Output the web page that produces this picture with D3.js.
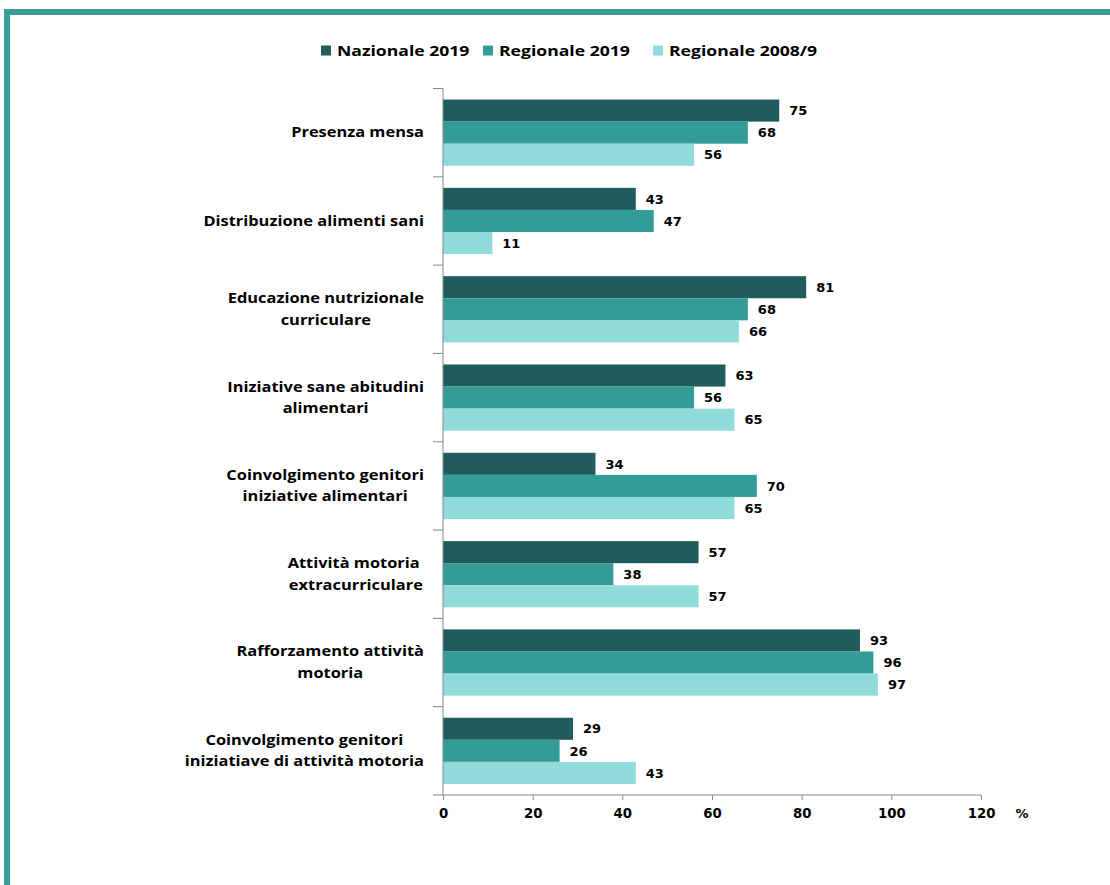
<!DOCTYPE html>
<html><head><meta charset="utf-8">
<script src="https://cdn.jsdelivr.net/npm/d3@7"></script>
<style>body{margin:0;background:#fff}svg{display:block}</style>
</head><body>
<svg id="c" width="1110" height="885"></svg>
<script>
const categories = [
  "Presenza mensa",
  "Distribuzione alimenti sani",
  "Educazione nutrizionale|curriculare",
  "Iniziative sane abitudini|alimentari",
  "Coinvolgimento genitori|iniziative alimentari",
  "Attività motoria |extracurriculare",
  "Rafforzamento attività|motoria",
  "Coinvolgimento genitori|iniziatiave di attività motoria"
];
const seriesNames = ["Nazionale 2019", "Regionale 2019", "Regionale 2008/9"];
const nazionale2019 = [75, 43, 81, 63, 34, 57, 93, 29];
const regionale2019 = [68, 47, 68, 56, 70, 38, 96, 26];
const regionale2008 = [56, 11, 66, 65, 65, 57, 97, 43];
const xTicks = [0, 20, 40, 60, 80, 100, 120];
const colors = ["#1f5c5b", "#339b98", "#8fdbd9"];

const series = [nazionale2019, regionale2019, regionale2008];
const svg = d3.select("#c");

// frame
svg.append("rect").attr("x", 4).attr("y", 9).attr("width", 1106).attr("height", 6).attr("fill", "#3a9e98");
svg.append("rect").attr("x", 4).attr("y", 9).attr("width", 6).attr("height", 876).attr("fill", "#3a9e98");

const x = d3.scaleLinear().domain([0, 120]).range([443, 981]);
const y = d3.scaleBand().domain(d3.range(categories.length)).range([88.5, 795]).paddingInner(0.25).paddingOuter(0.125);
const ySub = d3.scaleBand().domain(d3.range(series.length)).range([0, y.bandwidth()]);

const g = svg.append("g");
series.forEach((vals, si) => {
  g.selectAll(null).data(vals).enter().append("rect")
    .attr("x", x(0))
    .attr("y", (d, i) => y(i) + ySub(si))
    .attr("width", d => x(d) - x(0))
    .attr("height", ySub.bandwidth())
    .attr("fill", colors[si]);
  g.selectAll(null).data(vals).enter().append("text")
    .attr("x", d => x(d) + 10)
    .attr("y", (d, i) => y(i) + ySub(si) + ySub.bandwidth() / 2)
    .attr("dy", "0.36em")
    .attr("font-family", "DejaVu Sans")
    .attr("font-weight", "bold")
    .attr("font-size", 13)
    .attr("fill", "#000")
    .text(d => d);
});

// x axis
const xAxis = svg.append("g").attr("transform", "translate(0,795)")
  .call(d3.axisBottom(x).tickValues(xTicks).tickSize(5).tickPadding(9));
xAxis.select(".domain").attr("stroke", "#888").attr("d", "M" + x(0) + ",0H" + x(120));
xAxis.selectAll(".tick line").attr("stroke", "#888");
xAxis.selectAll("text").attr("font-family", "DejaVu Sans").attr("font-weight", "bold").attr("font-size", 13.3).attr("fill", "#000");
svg.append("text").attr("x", x(120) + 41).attr("y", 818).attr("text-anchor", "middle")
  .attr("font-family", "DejaVu Sans").attr("font-weight", "bold").attr("font-size", 13).text("%");

// y axis line and category ticks
const step = y.step();
const bounds = d3.range(categories.length + 1).map(i => y.range()[0] + i * step);
svg.append("line").attr("x1", x(0)).attr("x2", x(0)).attr("y1", bounds[0]).attr("y2", 795).attr("stroke", "#888");
svg.selectAll(null).data(bounds).enter().append("line")
  .attr("x1", x(0) - 10).attr("x2", x(0)).attr("y1", d => d).attr("y2", d => d).attr("stroke", "#888");

// category labels (horizontally stretched text, like the original)
const lineH = 21.5;
const sx = 1.215;
categories.forEach((c, i) => {
  const lines = c.split("|");
  const cy = y(i) + y.bandwidth() / 2;
  const holder = svg.append("g");
  const t = holder.append("text")
    .attr("font-family", "Open Sans").attr("font-weight", "bold").attr("font-size", 13.5).attr("fill", "#000")
    .attr("text-anchor", "middle");
  const tspans = lines.map((l, k) => t.append("tspan")
    .attr("x", 0)
    .attr("y", cy + (k - (lines.length - 1) / 2) * lineH)
    .attr("dy", "0.35em").text(l));
  const maxW = d3.max(tspans.map(s => s.node().getComputedTextLength())) * sx;
  holder.attr("transform", `translate(${424 - maxW / 2},0) scale(${sx},1)`);
});

// legend
const legX = [321, 483, 653];
const lsx = 1.23;
seriesNames.forEach((n, i) => {
  svg.append("rect").attr("x", legX[i]).attr("y", 45.5).attr("width", 10).attr("height", 10).attr("fill", colors[i]);
  svg.append("g").attr("transform", `translate(${legX[i] + 16},56) scale(${lsx},1)`)
    .append("text").attr("x", 0).attr("y", 0)
    .attr("font-family", "Open Sans").attr("font-weight", "bold").attr("font-size", 14.3).attr("fill", "#000").text(n);
});
</script>
</body></html>
